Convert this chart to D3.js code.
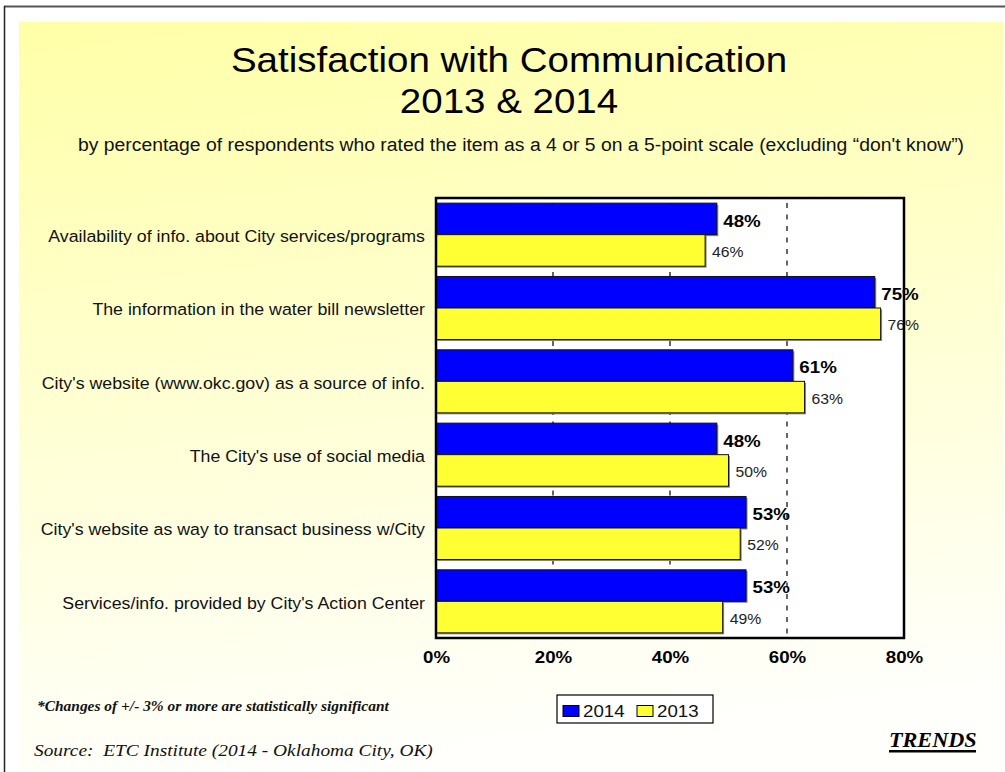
<!DOCTYPE html>
<html>
<head>
<meta charset="utf-8">
<script src="https://cdn.jsdelivr.net/npm/d3@7"></script>
<style>
  html, body { margin: 0; padding: 0; background: #ffffff; }
  svg { display: block; }
</style>
</head>
<body>
<svg id="chart" width="1005" height="772"></svg>
<script>
// ---- data ----
const categories = [
  "Availability of info. about City services/programs",
  "The information in the water bill newsletter",
  "City's website (www.okc.gov) as a source of info.",
  "The City's use of social media",
  "City's website as way to transact business w/City",
  "Services/info. provided by City's Action Center"
];
const values2014 = [48, 75, 61, 48, 53, 53];
const values2013 = [46, 76, 63, 50, 52, 49];
const seriesNames = ["2014", "2013"];
const tickValues = [0, 20, 40, 60, 80];
const tickLabels = ["0%", "20%", "40%", "60%", "80%"];

// ---- layout ----
const svg = d3.select("#chart");
const W = 1005, H = 772;
const plot = { x0: 436, x1: 904, y0: 198, y1: 638 };
const colors = { "2014": "#0000ff", "2013": "#ffff33" };
const SX = 1.1; // horizontal stretch of the original slide text

const defs = svg.append("defs");
const grad = defs.append("linearGradient").attr("id", "bg").attr("x1", 0).attr("y1", 0).attr("x2", 0.15).attr("y2", 1);
grad.append("stop").attr("offset", "0%").attr("stop-color", "#ffffa8");
grad.append("stop").attr("offset", "100%").attr("stop-color", "#fffffb");

// page background and frame
svg.append("rect").attr("x", 0).attr("y", 0).attr("width", W).attr("height", H).attr("fill", "#ffffff");
svg.append("rect").attr("x", 19).attr("y", 22).attr("width", 984).attr("height", H - 22).attr("fill", "url(#bg)");
svg.append("line").attr("x1", 4).attr("x2", W).attr("y1", 6.5).attr("y2", 6.5).attr("stroke", "#555").attr("stroke-width", 2);
svg.append("line").attr("x1", 4.5).attr("x2", 4.5).attr("y1", 6).attr("y2", H).attr("stroke", "#222").attr("stroke-width", 1.5);

const sans = "Arial, 'Liberation Sans', Helvetica, sans-serif";
const serif = "'Times New Roman', 'Liberation Serif', Times, serif";

function txt(parent, x, y, s, opts) {
  const t = parent.append("text")
    .attr("transform", `translate(${x},${y}) scale(${SX},1)`)
    .attr("font-family", opts.family || sans)
    .attr("font-size", opts.size)
    .attr("text-anchor", opts.anchor || "start")
    .attr("fill", opts.fill || "#000")
    .text(s);
  if (opts.weight) t.attr("font-weight", opts.weight);
  if (opts.style) t.attr("font-style", opts.style);
  return t;
}

// titles
txt(svg, 509, 72, "Satisfaction with Communication", { size: 35, anchor: "middle" });
txt(svg, 509, 113, "2013 & 2014", { size: 35, anchor: "middle" });
txt(svg, 521, 151, "by percentage of respondents who rated the item as a 4 or 5 on a 5-point scale (excluding \u201cdon't know\u201d)",
  { size: 17.6, anchor: "middle", fill: "#111" });

// scales
const x = d3.scaleLinear().domain([0, 80]).range([plot.x0, plot.x1]);
const y = d3.scaleBand().domain(categories).range([plot.y0, plot.y1]).paddingInner(0.14).paddingOuter(0.07);
const ySub = d3.scaleBand().domain(seriesNames).range([0, y.bandwidth()]);

// plot background
svg.append("rect").attr("x", plot.x0).attr("y", plot.y0)
  .attr("width", plot.x1 - plot.x0).attr("height", plot.y1 - plot.y0).attr("fill", "#ffffff");

// gridlines (dashed)
svg.append("g").selectAll("line").data(tickValues.filter(d => d > 0 && d < 80)).join("line")
  .attr("x1", d => x(d)).attr("x2", d => x(d))
  .attr("y1", plot.y0 + 5).attr("y2", plot.y1)
  .attr("stroke", "#000").attr("stroke-width", 1.2).attr("stroke-dasharray", "5,6.5");

// bars
const rows = categories.map((c, i) => ({ cat: c, data: [
  { s: "2014", v: values2014[i] }, { s: "2013", v: values2013[i] } ] }));
const groups = svg.append("g").selectAll("g").data(rows).join("g")
  .attr("transform", d => `translate(0,${y(d.cat)})`);
groups.selectAll("rect.sh").data(d => d.data).join("rect").attr("class", "sh")
  .attr("x", x(0) + 1.5).attr("y", d => ySub(d.s) + 1.5)
  .attr("width", d => x(d.v) - x(0)).attr("height", ySub.bandwidth())
  .attr("fill", "#8a8a8a");
groups.selectAll("rect.bar").data(d => d.data).join("rect").attr("class", "bar")
  .attr("x", x(0)).attr("y", d => ySub(d.s))
  .attr("width", d => x(d.v) - x(0)).attr("height", ySub.bandwidth())
  .attr("fill", d => colors[d.s]).attr("stroke", "#111").attr("stroke-width", 1);
groups.selectAll("text").data(d => d.data).join("text")
  .attr("transform", d => `translate(${x(d.v) + (d.s === "2014" ? 6.5 : 7)},${ySub(d.s) + ySub.bandwidth() / 2 + 1.5}) scale(${SX},1)`)
  .attr("dy", "0.36em")
  .attr("font-family", sans)
  .attr("font-size", d => d.s === "2014" ? 17 : 14.3)
  .attr("font-weight", d => d.s === "2014" ? "bold" : "normal")
  .attr("fill", d => d.s === "2014" ? "#000" : "#222")
  .text(d => d.v + "%");

// plot frame
svg.append("rect").attr("x", plot.x0).attr("y", plot.y0)
  .attr("width", plot.x1 - plot.x0).attr("height", plot.y1 - plot.y0)
  .attr("fill", "none").attr("stroke", "#000").attr("stroke-width", 2.5);

// category labels
svg.append("g").selectAll("text").data(categories).join("text")
  .attr("transform", d => `translate(425,${y(d) + y.bandwidth() / 2 + 1.5}) scale(${SX},1)`)
  .attr("dy", "0.36em").attr("text-anchor", "end")
  .attr("font-family", sans).attr("font-size", 16.15).attr("fill", "#111")
  .text(d => d);

// x axis
const xAxis = d3.axisBottom(x).tickValues(tickValues).tickSize(0).tickPadding(13)
  .tickFormat((d, i) => tickLabels[i]);
const ax = svg.append("g").attr("transform", `translate(0,${plot.y1})`).call(xAxis);
ax.select(".domain").remove();
ax.selectAll("text").attr("font-family", sans).attr("font-size", 17).attr("font-weight", "bold").attr("fill", "#000")
  .attr("transform", `scale(${SX},1)`).attr("x", 0);

// legend
const lg = svg.append("g").attr("transform", "translate(557,695)");
lg.append("rect").attr("width", 156).attr("height", 28).attr("fill", "#fff").attr("stroke", "#000").attr("stroke-width", 1.2);
const li = lg.selectAll("g").data(seriesNames).join("g")
  .attr("transform", (d, i) => `translate(${6 + i * 74},0)`);
li.append("rect").attr("x", 0).attr("y", 10.5).attr("width", 16).attr("height", 11)
  .attr("fill", d => colors[d]).attr("stroke", "#000").attr("stroke-width", 1);
li.append("text").attr("transform", `translate(20,21.5) scale(${SX},1)`).attr("font-family", sans).attr("font-size", 17)
  .attr("fill", "#111").text(d => d);

// footnotes
txt(svg, 37, 711, "*Changes of +/- 3% or more are statistically significant",
  { family: serif, size: 14.05, style: "italic", weight: "bold", fill: "#111" });
txt(svg, 34, 756, "Source:\u00a0 ETC Institute (2014 - Oklahoma City, OK)",
  { family: serif, size: 17.6, style: "italic", fill: "#111" });
txt(svg, 889, 747, "TRENDS", { family: serif, size: 20.2, style: "italic", weight: "bold" });
svg.append("rect").attr("x", 889).attr("y", 750).attr("width", 87).attr("height", 2.5).attr("fill", "#000");
</script>
</body>
</html>
